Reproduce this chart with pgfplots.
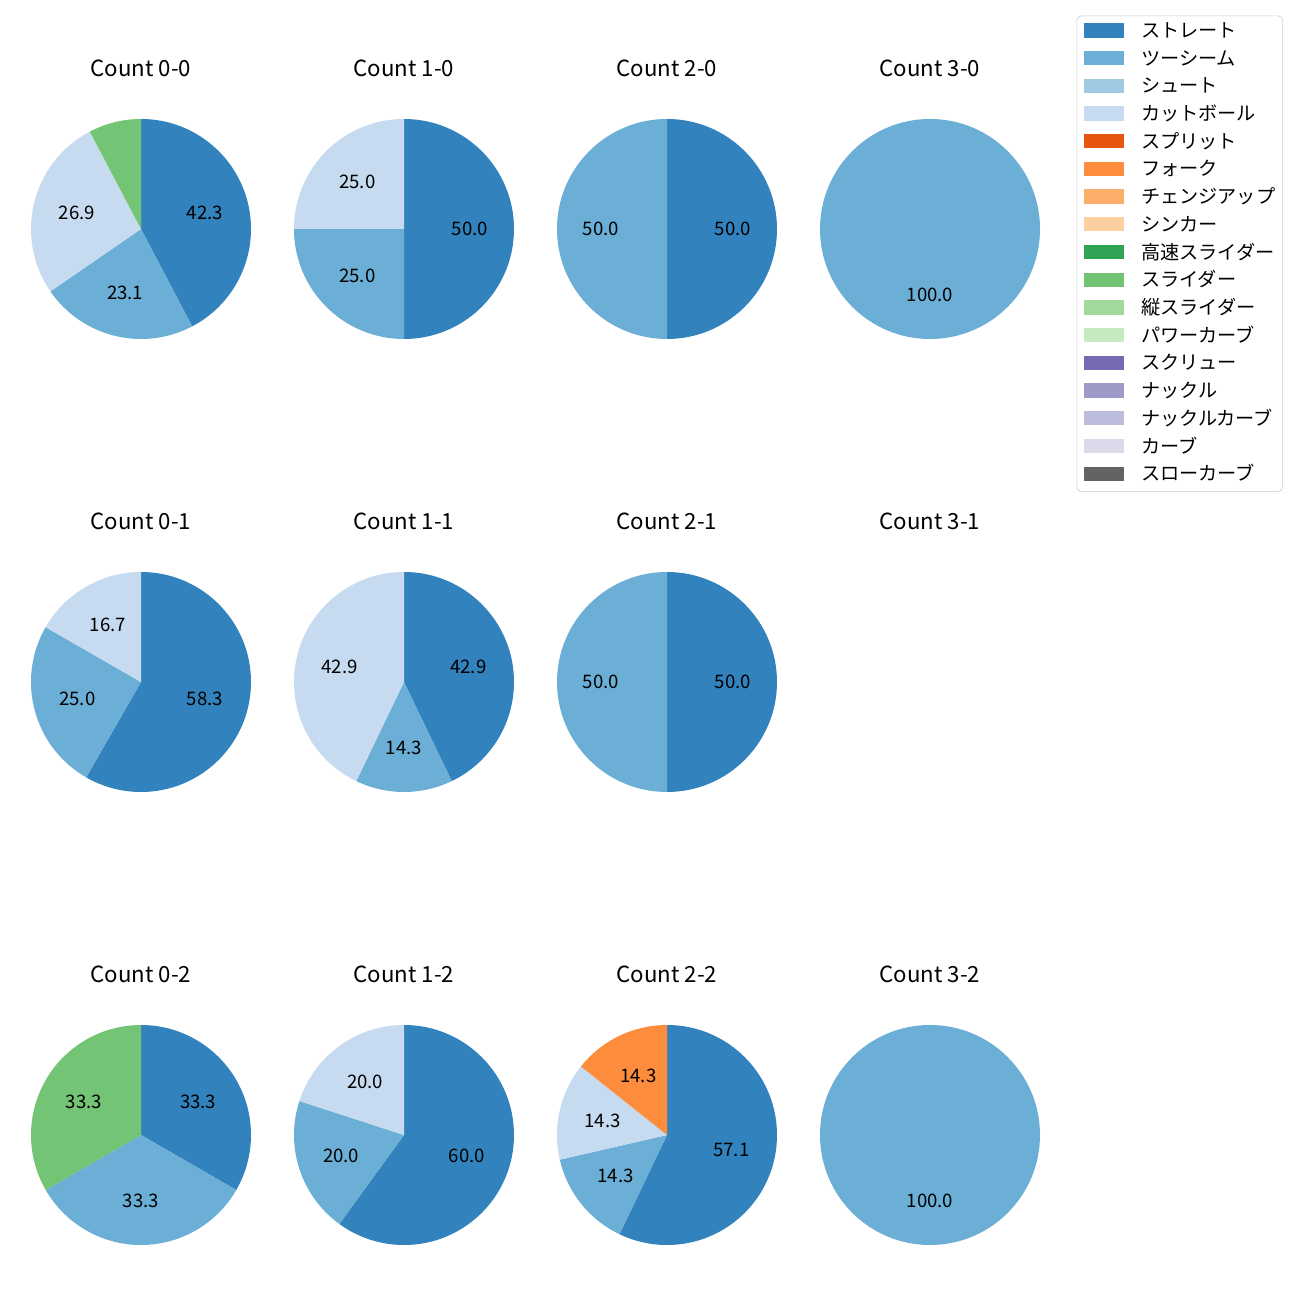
\documentclass[border=0pt]{standalone}
\usepackage{pgfplots}
\usepackage{pgfplotstable}
\pgfplotsset{compat=1.18}
\usepackage{fontspec}
\setmainfont{Noto Sans CJK JP}

\definecolor{c1}{HTML}{3182BD}
\definecolor{c2}{HTML}{6BAED6}
\definecolor{c3}{HTML}{9ECAE1}
\definecolor{c4}{HTML}{C6DBEF}
\definecolor{c5}{HTML}{E6550D}
\definecolor{c6}{HTML}{FD8D3C}
\definecolor{c7}{HTML}{FDAE6B}
\definecolor{c8}{HTML}{FDD0A2}
\definecolor{c9}{HTML}{31A354}
\definecolor{c10}{HTML}{74C476}
\definecolor{c11}{HTML}{A1D99B}
\definecolor{c12}{HTML}{C7E9C0}
\definecolor{c13}{HTML}{756BB1}
\definecolor{c14}{HTML}{9E9AC8}
\definecolor{c15}{HTML}{BCBDDC}
\definecolor{c16}{HTML}{DADAEB}
\definecolor{c17}{HTML}{636363}

\newcommand\lblfont{\fontsize{13.4bp}{15bp}\selectfont}
\newcommand\ttlfont{\fontsize{16bp}{19bp}\selectfont}
\newcommand\legfont{\fontsize{13.8bp}{16bp}\selectfont}
\newcommand\pieR{79.2bp}

% pitch-type shares (percent) for each count
\pgfplotstableread{
value color
42.3 c1
23.1 c2
26.9 c4
7.7  c10
}\tAA
\pgfplotstableread{
value color
50.0 c1
25.0 c2
25.0 c4
}\tBA
\pgfplotstableread{
value color
50.0 c1
50.0 c2
}\tCA
\pgfplotstableread{
value color
100.0 c2
}\tDA
\pgfplotstableread{
value color
58.3 c1
25.0 c2
16.7 c4
}\tAB
\pgfplotstableread{
value color
42.9 c1
14.3 c2
42.9 c4
}\tBB
\pgfplotstableread{
value color
50.0 c1
50.0 c2
}\tCB
\pgfplotstableread{
value color
33.3 c1
33.3 c2
33.3 c10
}\tAC
\pgfplotstableread{
value color
60.0 c1
20.0 c2
20.0 c4
}\tBC
\pgfplotstableread{
value color
57.1 c1
14.3 c2
14.3 c4
14.3 c6
}\tCC
\pgfplotstableread{
value color
100.0 c2
}\tDC

\newcommand\drawpie[1]{%
  \pgfplotstablegetrowsof{#1}\pgfmathtruncatemacro\nrows{\pgfplotsretval-1}%
  \def\pietot{0}%
  \pgfplotsforeachungrouped \i in {0,...,\nrows}{%
    \pgfplotstablegetelem{\i}{value}\of{#1}%
    \pgfmathsetmacro\pietot{\pietot+\pgfplotsretval}}%
  \def\piecum{0}%
  \pgfplotsforeachungrouped \i in {0,...,\nrows}{%
    \pgfplotstablegetelem{\i}{value}\of{#1}\let\pval\pgfplotsretval
    \pgfplotstablegetelem{\i}{color}\of{#1}\let\pcol\pgfplotsretval
    \pgfmathsetmacro\sa{90-\piecum/\pietot*360}%
    \pgfmathsetmacro\sb{90-(\piecum+\pval)/\pietot*360}%
    \pgfmathsetmacro\sm{(\sa+\sb)/2}%
    \pgfmathsetmacro\lx{0.6*cos(\sm)}%
    \pgfmathsetmacro\ly{0.6*sin(\sm)}%
    \pgfmathsetmacro\ax{cos(\sa)}%
    \pgfmathsetmacro\ay{sin(\sa)}%
    \edef\tmp{\noexpand\fill[\pcol] (axis cs:0,0) -- (axis cs:\ax,\ay) arc[start angle=\sa, end angle=\sb, radius=\noexpand\pieR] -- cycle;}%
    \tmp
    \pgfmathtruncatemacro\showlbl{\pval>10}%
    \ifnum\showlbl=1
      \edef\tmp{\noexpand\node[font=\noexpand\lblfont, inner sep=0pt] at (axis cs:\lx,\ly) {\pval};}%
      \tmp
    \fi
    \pgfmathsetmacro\piecum{\piecum+\pval}%
  }%
}

\pgfplotsset{
  pieax/.style={hide axis, x=79.2bp, y=79.2bp, xmin=-1.1, xmax=1.1, ymin=-1.1, ymax=1.1,
    clip=false, anchor=origin},
}
\newcommand\pietitle[1]{\node[font=\ttlfont, inner sep=0pt] at (axis cs:0,1.464) {#1};}

\begin{document}
\begin{tikzpicture}
\path[use as bounding box, fill=white] (0,0) rectangle (936bp,936bp);

% row 1
\begin{axis}[pieax, at={(101.52bp,771.12bp)}]
\drawpie{\tAA}\pietitle{Count 0-0}
\end{axis}
\begin{axis}[pieax, at={(290.88bp,771.12bp)}]
\drawpie{\tBA}\pietitle{Count 1-0}
\end{axis}
\begin{axis}[pieax, at={(480.24bp,771.12bp)}]
\drawpie{\tCA}\pietitle{Count 2-0}
\end{axis}
\begin{axis}[pieax, at={(669.6bp,771.12bp)}]
\drawpie{\tDA}\pietitle{Count 3-0}
\end{axis}

% row 2
\begin{axis}[pieax, at={(101.52bp,444.96bp)}]
\drawpie{\tAB}\pietitle{Count 0-1}
\end{axis}
\begin{axis}[pieax, at={(290.88bp,444.96bp)}]
\drawpie{\tBB}\pietitle{Count 1-1}
\end{axis}
\begin{axis}[pieax, at={(480.24bp,444.96bp)}]
\drawpie{\tCB}\pietitle{Count 2-1}
\end{axis}
\begin{axis}[pieax, at={(669.6bp,444.96bp)}]
\pietitle{Count 3-1}
\end{axis}

% row 3
\begin{axis}[pieax, at={(101.52bp,118.8bp)}]
\drawpie{\tAC}\pietitle{Count 0-2}
\end{axis}
\begin{axis}[pieax, at={(290.88bp,118.8bp)}]
\drawpie{\tBC}\pietitle{Count 1-2}
\end{axis}
\begin{axis}[pieax, at={(480.24bp,118.8bp)}]
\drawpie{\tCC}\pietitle{Count 2-2}
\end{axis}
\begin{axis}[pieax, at={(669.6bp,118.8bp)}]
\drawpie{\tDC}\pietitle{Count 3-2}
\end{axis}

% legend
\begin{axis}[hide axis, at={(775.2bp,924.7bp)}, anchor=north west, scale only axis,
  width=10bp, height=10bp, xmin=0, xmax=1, ymin=0, ymax=1,
  legend cell align=left,
  legend style={at={(0,1)}, anchor=north west, draw=black!20, rounded corners=3bp,
    fill=white, inner xsep=5.3bp, inner ysep=5.2bp, row sep=7.3bp, column sep=12.6bp,
    font=\legfont, nodes={inner sep=0pt, text height=9.5bp, text depth=2.4bp}},
  legend image code/.code={\fill[#1, sharp corners] (0bp,-3.1bp) rectangle (27.9bp,6.5bp);}]
\addlegendimage{c1}\addlegendentry{ストレート}
\addlegendimage{c2}\addlegendentry{ツーシーム}
\addlegendimage{c3}\addlegendentry{シュート}
\addlegendimage{c4}\addlegendentry{カットボール}
\addlegendimage{c5}\addlegendentry{スプリット}
\addlegendimage{c6}\addlegendentry{フォーク}
\addlegendimage{c7}\addlegendentry{チェンジアップ}
\addlegendimage{c8}\addlegendentry{シンカー}
\addlegendimage{c9}\addlegendentry{高速スライダー}
\addlegendimage{c10}\addlegendentry{スライダー}
\addlegendimage{c11}\addlegendentry{縦スライダー}
\addlegendimage{c12}\addlegendentry{パワーカーブ}
\addlegendimage{c13}\addlegendentry{スクリュー}
\addlegendimage{c14}\addlegendentry{ナックル}
\addlegendimage{c15}\addlegendentry{ナックルカーブ}
\addlegendimage{c16}\addlegendentry{カーブ}
\addlegendimage{c17}\addlegendentry{スローカーブ}
\end{axis}
\end{tikzpicture}
\end{document}
